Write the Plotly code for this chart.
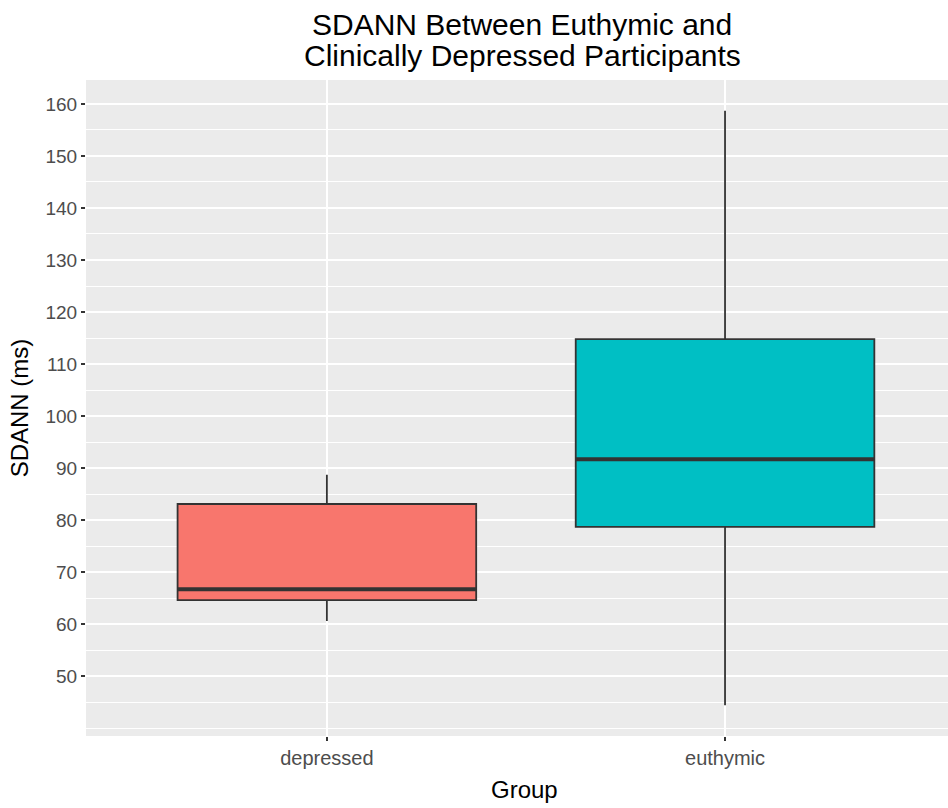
import plotly.graph_objects as go

groups = ["depressed", "euthymic"]
lower_whisker = [60.6, 44.4]
q1 = [64.6, 78.7]
median = [66.7, 91.7]
q3 = [83.1, 114.8]
upper_whisker = [88.7, 158.7]
fill_colors = ["#F8766D", "#00BFC4"]
y_ticks = [50, 60, 70, 80, 90, 100, 110, 120, 130, 140, 150, 160]

BOX_W = 0.75
positions = [i + 1 for i in range(len(groups))]

fig = go.Figure()
for i, g in enumerate(groups):
    fig.add_trace(go.Box(
        x=[positions[i]], q1=[q1[i]], median=[median[i]], q3=[q3[i]],
        lowerfence=[lower_whisker[i]], upperfence=[upper_whisker[i]],
        name=g, width=BOX_W, whiskerwidth=0, boxpoints=False,
        fillcolor=fill_colors[i], line=dict(color="#333333", width=1.8),
        showlegend=False, hoverinfo="skip",
    ))
    fig.add_trace(go.Scatter(
        x=[positions[i] - BOX_W / 2, positions[i] + BOX_W / 2],
        y=[median[i], median[i]], mode="lines",
        line=dict(color="#333333", width=4), showlegend=False, hoverinfo="skip",
    ))

fig.update_layout(
    width=948, height=808,
    margin=dict(l=86, r=0, t=80, b=72),
    paper_bgcolor="white", plot_bgcolor="#EBEBEB",
    font=dict(family="Liberation Sans, Arial, sans-serif"),
    annotations=[
        dict(text="SDANN Between Euthymic and", xref="paper", yref="paper",
             x=0.506, y=1.085, xanchor="center", yanchor="middle", showarrow=False,
             font=dict(size=30, color="black")),
        dict(text="Clinically Depressed Participants", xref="paper", yref="paper",
             x=0.506, y=1.037, xanchor="center", yanchor="middle", showarrow=False,
             font=dict(size=30, color="black")),
        dict(text="Group", xref="paper", yref="paper",
             x=0.509, y=-0.082, xanchor="center", yanchor="middle", showarrow=False,
             font=dict(size=24, color="black")),
    ],
)
fig.update_xaxes(
    range=[0.395, 2.56], tickmode="array", tickvals=positions, ticktext=groups,
    showgrid=True, gridcolor="white", gridwidth=2, zeroline=False,
    ticks="outside", ticklen=4, tickcolor="#333333", tickwidth=1.5,
    tickfont=dict(size=20, color="#4D4D4D"),
    showline=False,
)
fig.update_yaxes(
    range=[38.5, 164.6], tickmode="array", tickvals=y_ticks,
    showgrid=True, gridcolor="white", gridwidth=2, zeroline=False,
    minor=dict(dtick=5, tick0=0, showgrid=True, gridcolor="white", gridwidth=1.2, ticks=""),
    ticks="outside", ticklen=4, tickcolor="#333333", tickwidth=1.5,
    tickfont=dict(size=19, color="#4D4D4D"),
    title=dict(text="SDANN (ms)", font=dict(size=24, color="black"), standoff=10),
    showline=False,
)

fig.write_html("out.html")
